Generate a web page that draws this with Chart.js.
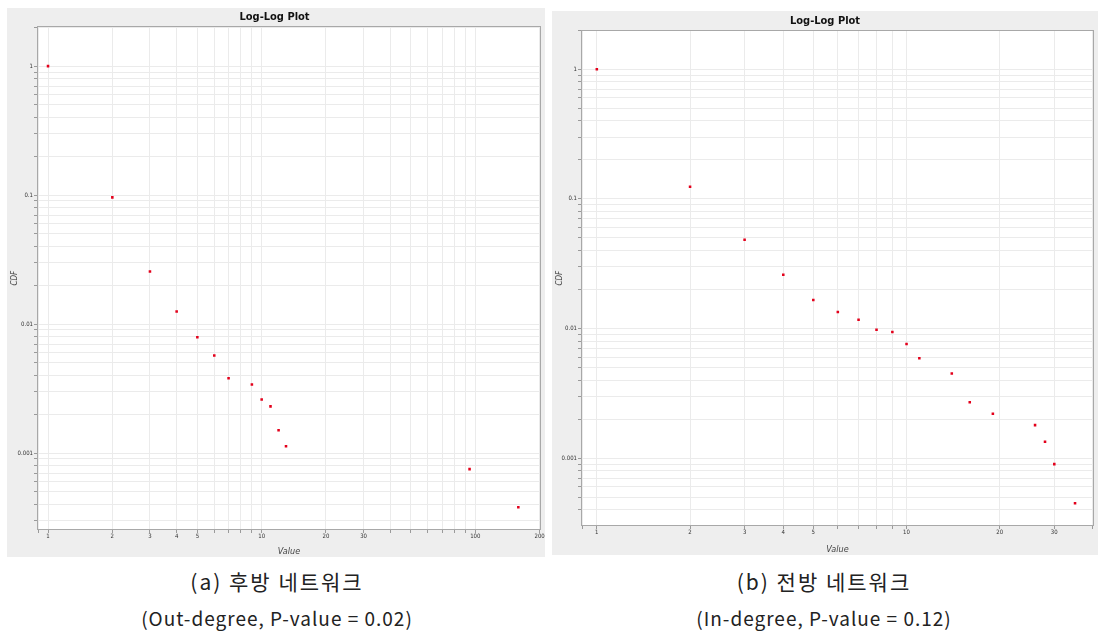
<!DOCTYPE html>
<html>
<head>
<meta charset="utf-8">
<script src="https://cdn.jsdelivr.net/npm/chart.js"></script>
<style>
  body { margin: 0; background: #ffffff; width: 1098px; height: 636px; position: relative; overflow: hidden; }
  .panel { position: absolute; background: #eeeeee; }
  .cap { position: absolute; width: 548px; text-align: center; font-family: "Noto Sans CJK KR", "Noto Sans", sans-serif; font-size: 19px; line-height: 24px; color: #222; letter-spacing: 1px; }
  .cap.ko { font-size: 21px; letter-spacing: 2px; }
</style>
</head>
<body>
<div class="panel" style="left:7px; top:8px; width:538px; height:549px;"><canvas id="outChart"></canvas></div>
<div class="panel" style="left:552px; top:11px; width:546px; height:544px;"><canvas id="inChart"></canvas></div>
<div class="cap ko" style="left:3px; top:569px;">(a) 후방 네트워크</div>
<div class="cap" style="left:3px; top:606px;">(Out-degree, P-value = 0.02)</div>
<div class="cap ko" style="left:550px; top:569px;">(b) 전방 네트워크</div>
<div class="cap" style="left:550px; top:606px;">(In-degree, P-value = 0.12)</div>
<script>
document.addEventListener('DOMContentLoaded', function() {

  // (a) out-degree
  var outDegree = [1, 2, 3, 4, 5, 6, 7, 9, 10, 11, 12, 13, 94, 159];
  var outCdf = [1, 0.096, 0.0256, 0.0125, 0.0079, 0.0057, 0.0038, 0.0034, 0.0026, 0.0023, 0.0015, 0.00113, 0.00075, 0.00038];

  // (b) in-degree
  var inDegree = [1, 2, 3, 4, 5, 6, 7, 8, 9, 10, 11, 14, 16, 19, 26, 28, 30, 35];
  var inCdf = [1, 0.124, 0.0484, 0.026, 0.0166, 0.0134, 0.0117, 0.0098, 0.0094, 0.0076, 0.0059, 0.0045, 0.0027, 0.0022, 0.0018, 0.00134, 0.0009, 0.00045];

  // tick labels
  var xLabelsOut = [1, 2, 3, 4, 5, 10, 20, 30, 100, 200];
  var xLabelsIn = [1, 2, 3, 4, 5, 10, 20, 30];
  var yLabels = [1, 0.1, 0.01, 0.001];

  var narrow = '"Liberation Sans Narrow", "Arial Narrow", "DejaVu Sans Condensed", sans-serif';

  // grid lines at 1..9 x 10^k inside the range
  function logGrid(min, max) {
    var vals = [];
    for (var e = -4; e <= 3; e++) {
      for (var m = 1; m <= 9; m++) {
        var v = +(m * Math.pow(10, e)).toPrecision(6);
        if (v >= min && v <= max) vals.push(v);
      }
    }
    return vals;
  }

  function hasLabel(list, v) {
    return list.some(function(l) { return Math.abs(v - l) / l < 1e-6; });
  }

  var plotBox = {
    id: 'plotBox',
    beforeDraw: function(chart) {
      var a = chart.chartArea;
      chart.ctx.save();
      chart.ctx.fillStyle = '#ffffff';
      chart.ctx.fillRect(a.left, a.top, a.right - a.left, a.bottom - a.top);
      chart.ctx.restore();
    },
    beforeDatasetsDraw: function(chart) {
      var a = chart.chartArea;
      var ctx = chart.ctx;
      ctx.save();
      ctx.strokeStyle = '#a8a8a8';
      ctx.lineWidth = 1;
      ctx.strokeRect(Math.round(a.left) + 0.5, Math.round(a.top) + 0.5, Math.round(a.right - a.left) - 1, Math.round(a.bottom - a.top) - 1);
      ctx.restore();
    }
  };

  function makeChart(id, xs, ys, xLabels, cfg) {
    var points = xs.map(function(x, i) { return { x: x, y: ys[i] }; });
    return new Chart(id, {
      type: 'scatter',
      data: {
        datasets: [{
          data: points,
          backgroundColor: '#e3001b',
          borderWidth: 0,
          pointRadius: 1.8,
          pointStyle: 'rect'
        }]
      },
      options: {
        responsive: true,
        maintainAspectRatio: false,
        animation: false,
        layout: { padding: { top: cfg.padTop, right: cfg.padRight, left: 0, bottom: 0 } },
        plugins: {
          legend: { display: false },
          tooltip: { enabled: false },
          title: {
            display: true,
            text: 'Log-Log Plot',
            color: '#111111',
            font: { family: narrow, size: 11, weight: 'bold' },
            padding: { top: 3, bottom: 2 }
          }
        },
        scales: {
          x: {
            type: 'logarithmic',
            min: cfg.xMin,
            max: cfg.xMax,
            afterBuildTicks: function(s) {
              s.ticks = logGrid(cfg.xMin, cfg.xMax).map(function(v) { return { value: v }; });
            },
            afterFit: function(s) { s.height = cfg.xAxisH; },
            border: { display: false },
            grid: { color: '#ebebeb', tickColor: '#9a9a9a', tickLength: 3 },
            ticks: {
              autoSkip: false,
              maxRotation: 0,
              minRotation: 0,
              padding: 0,
              color: '#333333',
              font: { family: narrow, size: 6 },
              callback: function(v) { return hasLabel(xLabels, v) ? String(v) : ''; }
            },
            title: {
              display: true,
              text: 'Value',
              color: '#444444',
              font: { family: narrow, size: 9, style: 'italic' },
              padding: { top: 4, bottom: 0 }
            }
          },
          y: {
            type: 'logarithmic',
            min: cfg.yMin,
            max: cfg.yMax,
            afterBuildTicks: function(s) {
              s.ticks = logGrid(cfg.yMin, cfg.yMax).map(function(v) { return { value: v }; });
            },
            afterFit: function(s) { s.width = cfg.yAxisW; },
            border: { display: false },
            grid: { color: '#ebebeb', tickColor: '#9a9a9a', tickLength: 3 },
            ticks: {
              autoSkip: false,
              padding: 1,
              color: '#333333',
              font: { family: narrow, size: 6 },
              callback: function(v) { return hasLabel(yLabels, v) ? String(v) : ''; }
            },
            title: {
              display: true,
              text: 'CDF',
              color: '#444444',
              font: { family: narrow, size: 8, style: 'italic' },
              padding: { top: 3, bottom: 0 }
            }
          }
        }
      },
      plugins: [plotBox]
    });
  }

  makeChart('outChart', outDegree, outCdf, xLabelsOut, {
    xMin: 0.888, xMax: 203, yMin: 0.000253, yMax: 2.04,
    xAxisH: 27, yAxisW: 30, padTop: 0, padRight: 3
  });

  makeChart('inChart', inDegree, inCdf, xLabelsIn, {
    xMin: 0.889, xMax: 40.3, yMin: 0.00031, yMax: 2.0,
    xAxisH: 29, yAxisW: 29, padTop: 1, padRight: 0
  });
});
</script>
</body>
</html>
